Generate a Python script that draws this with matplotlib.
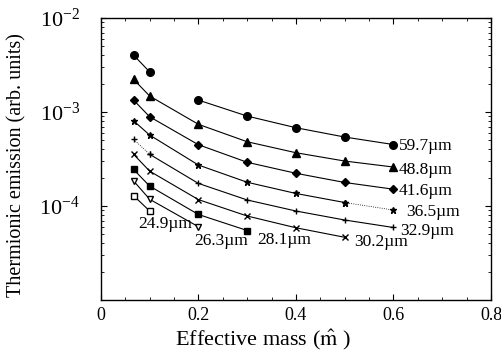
import numpy as np
import matplotlib
matplotlib.use('Agg')
import matplotlib.pyplot as plt
from matplotlib.ticker import LogLocator, MultipleLocator, NullFormatter

plt.rcParams['font.family'] = ['Liberation Serif', 'DejaVu Serif']
plt.rcParams['mathtext.fontset'] = 'stix'

# effective mass values
mass = [0.067, 0.1, 0.2, 0.3, 0.4, 0.5, 0.6]

# thermionic emission for each well width
e_597 = [4.04e-3, 2.67e-3, 1.34e-3, 9.06e-4, 6.81e-4, 5.42e-4, 4.51e-4]
e_488 = [2.23e-3, 1.48e-3, 7.40e-4, 4.83e-4, 3.69e-4, 3.01e-4, 2.60e-4]
e_416 = [1.34e-3, 8.91e-4, 4.49e-4, 2.92e-4, 2.23e-4, 1.78e-4, 1.51e-4]
e_365 = [8.07e-4, 5.69e-4, 2.73e-4, 1.79e-4, 1.36e-4, 1.09e-4, 9.06e-5]
e_329 = [5.13e-4, 3.55e-4, 1.74e-4, 1.16e-4, 8.85e-5, 7.10e-5, 5.91e-5]
e_302 = [3.55e-4, 2.35e-4, 1.17e-4, 7.83e-5, 5.87e-5, 4.65e-5]
e_281 = [2.45e-4, 1.63e-4, 8.13e-5, 5.49e-5]
e_263 = [1.85e-4, 1.18e-4, 6.02e-5]
e_249 = [1.29e-4, 8.85e-5]

widths = ['59.7', '48.8', '41.6', '36.5', '32.9', '30.2', '28.1', '26.3', '24.9']
xticks = [0, 0.2, 0.4, 0.6, 0.8]
xticklabels = ['0', '0.2', '0.4', '0.6', '0.8']

fig = plt.figure(figsize=(5.02, 3.54), dpi=100)
ax = fig.add_axes([0.201, 0.1525, 0.777, 0.7965])

lw = 0.8
k = dict(color='black', lw=lw)

# 59.7 um: two separate segments
ax.plot(mass[:2], e_597[:2], marker='o', ms=5.5, **k)
ax.plot(mass[2:], e_597[2:], marker='o', ms=5.5, **k)
ax.plot(mass, e_488, marker='^', ms=5.5, **k)
ax.plot(mass, e_416, marker='D', ms=4, **k)
ax.plot(mass[:6], e_365[:6], marker='*', ms=5, **k)
ax.plot(mass[5:], e_365[5:], marker='*', ms=5, color='black', lw=0.6, ls=':')
ax.plot(mass[:2], e_329[:2], marker='+', ms=5, color='black', lw=0.6, ls=':')
ax.plot(mass[1:], e_329[1:], marker='+', ms=5, **k)
ax.plot(mass[:6], e_302, marker='x', ms=4, **k)
ax.plot(mass[:4], e_281, marker='s', ms=4, **k)
ax.plot(mass[:3], e_263, marker='v', ms=5, mfc='white', **k)
ax.plot(mass[:2], e_249, marker='s', ms=5, mfc='white', **k)

# width labels next to the last point of each curve (offsets in points)
ends = [(mass[6], e_597[6], 4, -1),
        (mass[6], e_488[6], 4, -2),
        (mass[6], e_416[6], 4, -1.5),
        (mass[6], e_365[6], 9, -1.5),
        (mass[6], e_329[6], 5, -2.5),
        (mass[5], e_302[5], 7, -3.5),
        (mass[3], e_281[3], 7, -7),
        (mass[2], e_263[2], -3, -10),
        (mass[1], e_249[1], -8, -9)]
for w, (x, y, dx, dy) in zip(widths, ends):
    ax.annotate(w + '\u00b5m', xy=(x, y), xytext=(dx, dy), textcoords='offset points',
                ha='left', va='center', fontsize=12.5)

ax.set_yscale('log')
ax.set_xlim(0, 0.8)
ax.set_ylim(1e-5, 1e-2)
ax.set_yticks([1e-4, 1e-3, 1e-2])
ax.yaxis.set_minor_locator(LogLocator(base=10, subs=np.arange(2, 10)))
ax.yaxis.set_minor_formatter(NullFormatter())
ax.set_xticks(xticks, xticklabels)
ax.xaxis.set_minor_locator(MultipleLocator(0.05))

ax.tick_params(which='both', direction='in', top=True, right=True)
ax.tick_params(which='major', length=4, width=0.8)
ax.tick_params(which='minor', length=2, width=0.6)
ax.tick_params(axis='x', which='major', pad=5, labelsize=13)
ax.tick_params(axis='y', which='major', pad=15, labelsize=16)
for s in ax.spines.values():
    s.set_linewidth(1.0)

ax.set_xlabel(r'Effective mass ($\hat{\mathrm{m}}$ )', fontsize=16)
ax.set_ylabel('Thermionic emission (arb. units)', fontsize=14.5)
ax.xaxis.set_label_coords(0.415, -0.097)
ax.yaxis.set_label_coords(-0.19, 0.479)

fig.savefig('out.png', dpi=100)
